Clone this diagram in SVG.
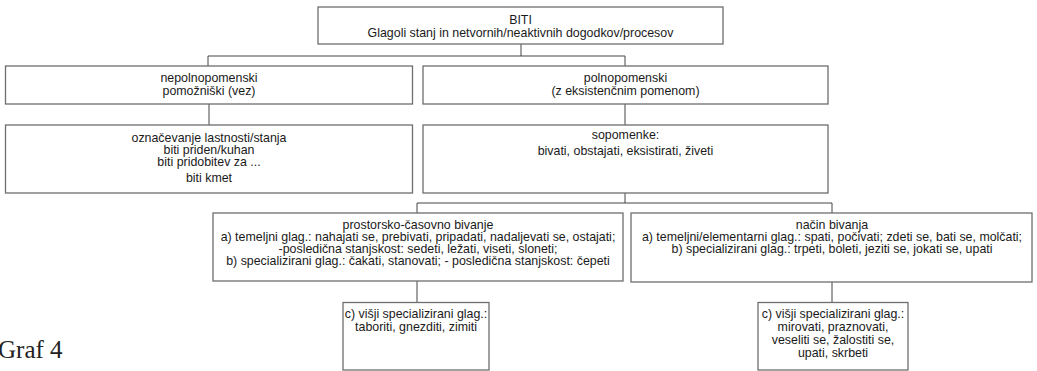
<svg xmlns="http://www.w3.org/2000/svg" width="1037" height="371" viewBox="0 0 1037 371">
<style>
.box{fill:#fff;stroke:#6e6e6e;stroke-width:1.3}
.t{font-family:"Liberation Sans",Arial,sans-serif;font-size:12.4px;fill:#1a1a1a;text-anchor:middle}
.c{fill:none;stroke:#444;stroke-width:1}
</style>
<rect width="1037" height="371" fill="#fff"/>
<g id="connectors">
<path class="c" d="M521 44V56M208 56H625M208 56V66M625 56V66"/>
<path class="c" d="M209 104V125M625 104V125"/>
<path class="c" d="M625 193V203M417 203H832M417 203V213M832 203V213"/>
<path class="c" d="M417 281V302M832 282V302"/>
</g>
<g id="n-biti">
<rect class="box" x="318" y="7" width="405" height="37"/>
<text class="t" x="520.5" y="23.5">BITI</text>
<text class="t" x="520.5" y="36.5">Glagoli stanj in netvornih/neaktivnih dogodkov/procesov</text>
</g>
<g id="n-nepolno">
<rect class="box" x="5.5" y="66" width="407" height="38"/>
<text class="t" x="209" y="82">nepolnopomenski</text>
<text class="t" x="209" y="95">pomožniški (vez)</text>
</g>
<g id="n-polno">
<rect class="box" x="423" y="66" width="405" height="38"/>
<text class="t" x="625.5" y="82">polnopomenski</text>
<text class="t" x="625.5" y="95">(z eksistenčnim pomenom)</text>
</g>
<g id="n-oznacevanje">
<rect class="box" x="5.5" y="125" width="407" height="68"/>
<text class="t" x="209" y="141.5">označevanje lastnosti/stanja</text>
<text class="t" x="209" y="153.5">biti priden/kuhan</text>
<text class="t" x="209" y="166">biti pridobitev za ...</text>
<text class="t" x="209" y="182">biti kmet</text>
</g>
<g id="n-sopomenke">
<rect class="box" x="423" y="125" width="405" height="68"/>
<text class="t" x="625.5" y="139">sopomenke:</text>
<text class="t" x="625.5" y="155">bivati, obstajati, eksistirati,  živeti</text>
</g>
<g id="n-prostorsko">
<rect class="box" x="213" y="213" width="410" height="68"/>
<text class="t" x="418" y="228.5">prostorsko-časovno bivanje</text>
<text class="t" x="418" y="240.5">a) temeljni glag.: nahajati se, prebivati, pripadati, nadaljevati se, ostajati;</text>
<text class="t" x="418" y="252.5">-posledična stanjskost: sedeti, ležati,  viseti, sloneti;</text>
<text class="t" x="418" y="264.5">b) specializirani glag.: čakati, stanovati; - posledična stanjskost: čepeti</text>
</g>
<g id="n-nacin">
<rect class="box" x="631" y="213" width="401" height="69"/>
<text class="t" x="832" y="228.5">način bivanja</text>
<text class="t" x="832" y="240.5">a) temeljni/elementarni glag.: spati, počivati; zdeti se, bati se, molčati;</text>
<text class="t" x="832" y="252.5">b) specializirani glag.: trpeti, boleti, jeziti se, jokati se, upati</text>
</g>
<g id="n-visji-1">
<rect class="box" x="343" y="302.5" width="146" height="67.5"/>
<text class="t" x="416" y="318">c) višji specializirani glag.:</text>
<text class="t" x="416" y="330.5">taboriti, gnezditi, zimiti</text>
</g>
<g id="n-visji-2">
<rect class="box" x="758" y="302.5" width="150" height="67.5"/>
<text class="t" x="833" y="318">c) višji specializirani glag.:</text>
<text class="t" x="833" y="331">mirovati, praznovati,</text>
<text class="t" x="833" y="344">veseliti se, žalostiti se,</text>
<text class="t" x="833" y="357">upati, skrbeti</text>
</g>
<text x="-2" y="358" font-family="'Liberation Serif','Times New Roman',serif" font-size="25" fill="#222">Graf 4</text>
</svg>
